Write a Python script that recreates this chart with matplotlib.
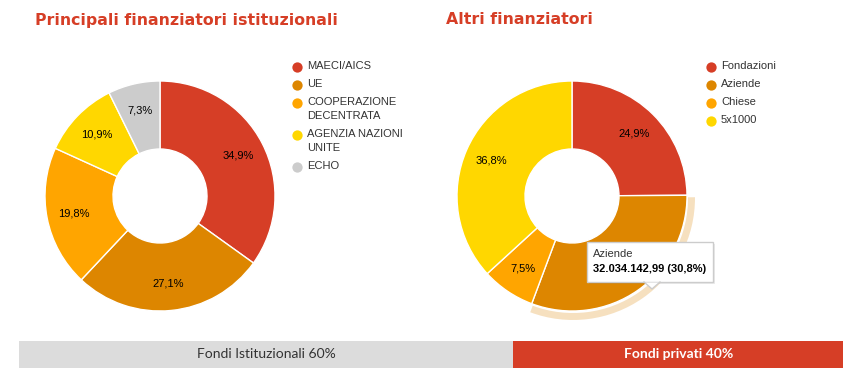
import numpy as np
import matplotlib.pyplot as plt
from matplotlib.patches import FancyBboxPatch, Polygon, Wedge

# dati
ist_labels = ['MAECI/AICS', 'UE', 'COOPERAZIONE\nDECENTRATA', 'AGENZIA NAZIONI\nUNITE', 'ECHO']
ist_values = [34.9, 27.1, 19.8, 10.9, 7.3]
ist_colors = ['#d63e26', '#dd8600', '#ffa500', '#ffd700', '#cccccc']

altri_labels = ['Fondazioni', 'Aziende', 'Chiese', '5x1000']
altri_values = [24.9, 30.8, 7.5, 36.8]
altri_colors = ['#d63e26', '#dd8600', '#ffa500', '#ffd700']

fondi_labels = ['Fondi Istituzionali 60%', 'Fondi privati 40%']
fondi_values = [60, 40]
fondi_colors = ['#dcdcdc', '#d63e26']

tooltip_title = 'Aziende'
tooltip_value = '32.034.142,99 (30,8%)'

W, H = 865, 390
fig = plt.figure(figsize=(W / 100, H / 100), dpi=100)
ax = fig.add_axes([0, 0, 1, 1])

RED = '#d63e26'


def fmt(v):
    return f'{v:.1f}%'.replace('.', ',')


def donut(cx, cy, values, colors, hidden_label=None):
    wedges, _ = ax.pie(values, colors=colors, center=(cx, H - cy), radius=115,
                       startangle=90, counterclock=False,
                       wedgeprops=dict(width=68, edgecolor='white', linewidth=1))
    cum = 0
    for i, v in enumerate(values):
        mid = (cum + v / 2) / 100 * 2 * np.pi
        cum += v
        if i == hidden_label:
            continue
        x = cx + 88 * np.sin(mid)
        y = cy - 88 * np.cos(mid)
        ax.text(x, H - y, fmt(v), ha='center', va='center', fontsize=8,
                family='Liberation Sans', color='#000000')
    return wedges


def legend(x, ys, labels, colors):
    for y, lab, c in zip(ys, labels, colors):
        ax.scatter([x], [H - y], s=55, color=c, zorder=5, linewidths=0)
        ax.text(x + 10, H - y + 6, lab, ha='left', va='top', fontsize=8,
                family='Liberation Sans', color='#333333', linespacing=1.45)


donut(160, 196, ist_values, ist_colors)
donut(572, 196, altri_values, altri_colors, hidden_label=1)

# alone sulla fetta evidenziata
t1 = 90 - altri_values[0] / 100 * 360
t0 = t1 - altri_values[1] / 100 * 360
ax.add_patch(Wedge((573, H - 198), 122, t0, t1, width=7, color='#dd8600', alpha=0.25,
                   linewidth=0, zorder=0))

legend(297, [67, 85, 103, 135, 167], ist_labels, ist_colors)
legend(711, [67, 85, 103, 121], altri_labels, altri_colors)

ax.text(35, H - 20, 'Principali finanziatori istituzionali', fontsize=11.3, fontweight='bold',
        color=RED, ha='left', va='center', family='DejaVu Sans')
ax.text(446, H - 20, 'Altri finanziatori', fontsize=11.3, fontweight='bold',
        color=RED, ha='left', va='center', family='DejaVu Sans')

# tooltip
ax.add_patch(FancyBboxPatch((589, H - 284), 126, 40, boxstyle='square,pad=0',
                            facecolor='#000000', alpha=0.08, linewidth=0, zorder=9))
ax.add_patch(FancyBboxPatch((587, H - 282), 126, 40, boxstyle='square,pad=0',
                            facecolor='white', edgecolor='#cccccc', linewidth=1, zorder=10))
ax.add_patch(Polygon([(644, H - 282.5), (660, H - 282.5), (652, H - 289)], closed=True,
                     facecolor='white', edgecolor='none', zorder=11))
ax.plot([644, 652, 660], [H - 282, H - 289, H - 282], color='#cccccc', lw=1, zorder=11)
ax.text(593, H - 254, tooltip_title, fontsize=8, family='Liberation Sans', va='center',
        zorder=12, color='#333333')
ax.text(593, H - 269, tooltip_value, fontsize=8, family='Liberation Sans', va='center',
        fontweight='bold', zorder=12, color='#000000')

ax.set_xlim(0, W)
ax.set_ylim(0, H)
ax.set_aspect('auto')
ax.axis('off')

# barra fondi
bx = fig.add_axes([19 / W, (H - 368) / H, 824 / W, 27 / H])
left = 0
for lab, v, c, tc in zip(fondi_labels, fondi_values, fondi_colors, ['#333333', 'white']):
    bx.barh(0, v, left=left, color=c, height=1)
    bx.text(left + v / 2, 0.02, lab, ha='center', va='center', fontsize=10,
            family='Lato', fontweight='bold' if tc == 'white' else 'normal', color=tc)
    left += v
bx.set_xlim(0, 100)
bx.set_ylim(-0.5, 0.5)
bx.axis('off')

fig.savefig('out.png', dpi=100)
